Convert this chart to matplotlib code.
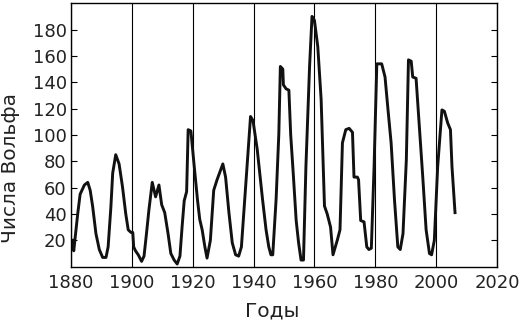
import matplotlib
matplotlib.use("Agg")
import matplotlib.pyplot as plt

# Wolf numbers (year, value)
years = [1880.5, 1880.9, 1882.2, 1883.0, 1884.4, 1885.5, 1886.3, 1887.1, 1888.2, 1889.3,
         1890.4, 1891.5, 1892.2, 1893.1, 1893.7, 1894.7, 1895.8, 1896.9, 1898.0, 1898.8,
         1899.7, 1900.3, 1900.6, 1901.2, 1902.1, 1903.2, 1904.0, 1904.8, 1905.6, 1906.7,
         1907.8, 1908.9, 1909.8, 1910.8, 1911.9, 1912.8, 1913.9, 1914.9, 1915.8, 1916.5,
         1917.2, 1918.0, 1918.5, 1919.4, 1920.5, 1921.6, 1922.3, 1923.1, 1924.0, 1924.7,
         1925.8, 1926.9, 1928.0, 1929.1, 1929.9, 1930.8, 1931.9, 1933.0, 1934.1, 1935.1,
         1936.0, 1937.4, 1939.0, 1939.8, 1941.2, 1942.9, 1944.1, 1945.0, 1945.7, 1946.3,
         1947.4, 1948.3, 1948.8, 1949.6, 1949.8, 1950.7, 1951.6, 1952.2, 1953.0, 1954.0,
         1954.8, 1955.6, 1956.4, 1957.2, 1958.4, 1959.2, 1960.0, 1961.1, 1962.2, 1963.3,
         1964.2, 1965.3, 1966.1, 1967.5, 1968.4, 1969.2, 1970.3, 1971.4, 1972.5, 1973.0,
         1974.1, 1974.5, 1975.2, 1976.3, 1977.2, 1977.9, 1978.7, 1979.6, 1980.5, 1982.1,
         1983.2, 1984.1, 1985.2, 1986.3, 1987.4, 1988.2, 1989.1, 1990.2, 1990.9, 1991.8,
         1992.3, 1993.4, 1994.5, 1995.6, 1996.7, 1997.8, 1998.5, 1999.4, 2000.5, 2001.9,
         2002.7, 2003.8, 2004.7, 2005.2, 2006.2]
wolf = [20, 12, 40, 55, 62, 64, 58, 46, 25, 13,
        7, 7, 15, 45, 71, 85, 78, 61, 40, 28,
        26, 26, 15, 12, 9, 4, 8, 25, 43, 64,
        53, 62, 47, 41, 25, 10, 5, 2, 8, 30,
        50, 57, 104, 103, 76, 50, 36, 28, 15, 6.5,
        20, 58, 66, 73, 78, 68, 41, 18, 9, 8,
        15, 61, 114, 111, 89, 52, 28, 15, 9, 9,
        51, 101, 152, 150, 138, 135, 134, 100, 72, 35,
        18, 5, 5, 76, 152, 190, 187, 167, 127, 46,
        40, 30, 9, 20, 28, 94, 104, 105, 102, 68,
        68, 66, 35, 34, 15, 13, 14, 76, 154, 154,
        144, 121, 94, 51, 15, 13, 25, 81, 157, 156,
        144, 143, 106, 68, 28, 10, 9, 20, 76, 119,
        118, 109, 104, 76, 41]

xticks = [1880, 1900, 1920, 1940, 1960, 1980, 2000, 2020]
yticks = [20, 40, 60, 80, 100, 120, 140, 160, 180]

fig = plt.figure(figsize=(5.24, 3.24), dpi=100)
ax = fig.add_axes([0.1355, 0.177, 0.813, 0.813])

ax.plot(years, wolf, color='#111111', lw=2.1, solid_joinstyle='round')

ax.set_xlim(1880, 2020)
ax.set_ylim(0, 200)
ax.set_xticks(xticks)
ax.set_yticks(yticks)
ax.grid(axis='x', color='black', lw=0.8)

ax.tick_params(axis='x', length=0, pad=5, labelsize=13, labelcolor='#222222')
ax.tick_params(axis='y', direction='in', length=4, width=0.8, right=True,
               pad=3, labelsize=13, labelcolor='#222222')
for s in ax.spines.values():
    s.set_linewidth(1.0)

fig.text(0.02, 0.482, 'Числа Вольфа', rotation=90, ha='center', va='center',
         fontsize=14.5, color='#222222')
fig.text(0.52, 0.04, 'Годы', ha='center', va='center', fontsize=14.5, color='#222222')

fig.savefig('out.png', dpi=100)
